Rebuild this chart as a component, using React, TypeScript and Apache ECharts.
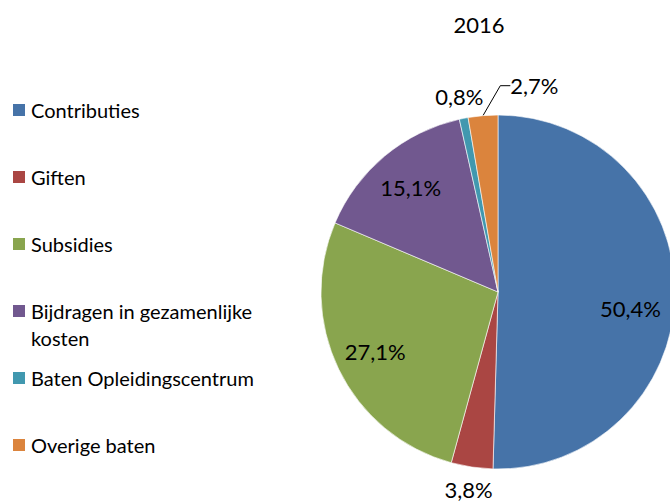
import React, { useEffect, useRef } from "react";
import * as echarts from "echarts";

const title = "2016";
const categories = [
  "Contributies",
  "Giften",
  "Subsidies",
  "Bijdragen in gezamenlijke\nkosten",
  "Baten Opleidingscentrum",
  "Overige baten",
];
const values = [50.4, 3.8, 27.1, 15.1, 0.8, 2.7];
const colors = ["#4673A8", "#AA4643", "#89A54E", "#71588F", "#4198AF", "#DB843D"];
// where each value label is placed: inside the slice, just outside it, or with a leader line
const labelModes = ["inside", "outer", "inside", "inside", "outer", "leader"];

const FONT = "Lato, 'Open Sans', sans-serif";
const fmt = (v: number) => v.toFixed(1).replace(".", ",") + "%";

export default function App() {
  const ref = useRef<HTMLDivElement>(null);
  useEffect(() => {
    document.body.style.margin = "0";
    const chart = echarts.init(ref.current!, null, { renderer: "svg" });
    const center = [498, 292];
    const R = 177;

    const legendTop = 110;
    const legendStep = 67;
    const legend: any[] = [];
    categories.forEach((c, i) => {
      const cy = legendTop + i * legendStep;
      legend.push({
        type: "rect",
        shape: { x: 13, y: cy - 6, width: 12, height: 12 },
        style: { fill: colors[i] },
      });
      legend.push({
        type: "text",
        x: 31,
        y: cy - 13.5,
        style: {
          text: c,
          font: `20px ${FONT}`,
          fill: "#000",
          lineHeight: 27,
          textVerticalAlign: "top",
        },
      });
    });

    const labelText = { color: "#000", fontSize: 22, fontFamily: FONT, lineHeight: 22 };

    chart.setOption({
      animation: false,
      title: {
        text: title,
        left: 474,
        top: 8,
        textAlign: "center",
        textStyle: { fontSize: 22, fontWeight: "normal", color: "#000", fontFamily: FONT },
      },
      graphic: legend,
      series: [
        {
          type: "pie",
          center,
          radius: R,
          startAngle: 90,
          clockwise: true,
          avoidLabelOverlap: false,
          itemStyle: { borderColor: "#ffffff", borderWidth: 0.6 },
          data: values.map((v, i) => ({
            name: categories[i],
            value: v,
            itemStyle: { color: colors[i] },
            label: {
              show: labelModes[i] === "leader",
              position: "outside",
              formatter: fmt(v),
              ...labelText,
            },
            labelLine: {
              show: labelModes[i] === "leader",
              length: 24,
              length2: 10,
              lineStyle: { color: "#000", width: 1 },
            },
          })),
          labelLayout: (p: any) =>
            labelModes[p.dataIndex] === "leader"
              ? {
                  x: p.rect.x + p.rect.width + 12,
                  y: p.rect.y - 29,
                  align: "left",
                  verticalAlign: "middle",
                }
              : {},
          emphasis: { disabled: true },
        },
        {
          type: "pie",
          center,
          radius: [90, R],
          startAngle: 90,
          clockwise: true,
          silent: true,
          z: 3,
          avoidLabelOverlap: false,
          itemStyle: { color: "transparent" },
          labelLine: { show: false },
          data: values.map((v, i) => ({
            name: categories[i],
            value: v,
            label: {
              show: labelModes[i] === "inside",
              position: "inside",
              formatter: fmt(v),
              offset: i === 0 ? [-4, 15] : [0, 0],
              ...labelText,
            },
          })),
        },
        {
          type: "pie",
          center,
          radius: [R, 216],
          startAngle: 90,
          clockwise: true,
          silent: true,
          z: 3,
          avoidLabelOverlap: false,
          itemStyle: { color: "transparent" },
          labelLine: { show: false },
          data: values.map((v, i) => ({
            name: categories[i],
            value: v,
            label: {
              show: labelModes[i] === "outer",
              position: "inside",
              formatter: fmt(v),
              ...labelText,
            },
          })),
        },
      ],
    });
    return () => chart.dispose();
  }, []);
  return <div ref={ref} style={{ width: 670, height: 502 }} />;
}
